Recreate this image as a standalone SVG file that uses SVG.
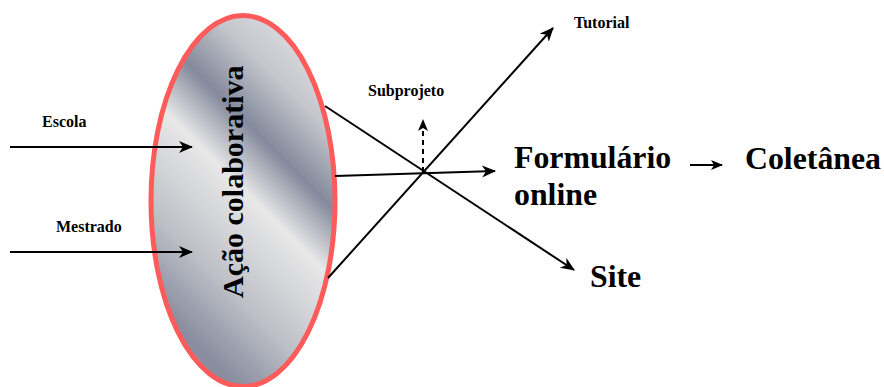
<svg xmlns="http://www.w3.org/2000/svg" width="884" height="387" viewBox="0 0 884 387">
<style>
.lbl{font-family:"Liberation Serif","Times New Roman",serif;font-weight:bold;fill:#000}
.s{font-size:16px}
.b{font-size:31.8px}
.ln{stroke:#000;stroke-width:2;fill:none}
</style>
<defs>
<linearGradient id="g" gradientUnits="userSpaceOnUse" x1="345" y1="98" x2="140" y2="303">
<stop offset="0" stop-color="#d6d7db"/>
<stop offset="0.12" stop-color="#c4c6cc"/>
<stop offset="0.30" stop-color="#848a9c"/>
<stop offset="0.47" stop-color="#e8e8e8"/>
<stop offset="0.62" stop-color="#d2d3d7"/>
<stop offset="0.75" stop-color="#bcbfc6"/>
<stop offset="0.97" stop-color="#878c9e"/>
<stop offset="1" stop-color="#8a8fa0"/>
</linearGradient>
<marker id="ah" markerUnits="userSpaceOnUse" markerWidth="16" markerHeight="14" refX="13" refY="6" orient="auto">
<path d="M0,0 L14,6 L0,12 L4,6 z" fill="#000"/>
</marker>
<marker id="ahs" markerUnits="userSpaceOnUse" markerWidth="14" markerHeight="12" refX="11" refY="5" orient="auto">
<path d="M0,0 L12,5 L0,10 L3,5 z" fill="#000"/>
</marker>
</defs>
<g id="acao">
<ellipse cx="243" cy="201" rx="92" ry="185.5" fill="url(#g)" stroke="#ff5b5b" stroke-width="5"/>
<text class="lbl" font-size="30" transform="translate(243,298) rotate(-90)">Ação colaborativa</text>
</g>
<g id="connectors">
<line class="ln" x1="10" y1="147" x2="192" y2="147" marker-end="url(#ah)"/>
<line class="ln" x1="10" y1="252" x2="192" y2="252" marker-end="url(#ah)"/>
<line class="ln" x1="325" y1="106" x2="574" y2="270" marker-end="url(#ah)"/>
<line class="ln" x1="335" y1="176" x2="495" y2="171" marker-end="url(#ah)"/>
<line class="ln" x1="328" y1="278" x2="553" y2="28" marker-end="url(#ah)"/>
<line class="ln" x1="423" y1="172" x2="423" y2="120" stroke-dasharray="5,4" marker-end="url(#ahs)"/>
<line class="ln" x1="690" y1="165" x2="722" y2="165" stroke-width="1.5" marker-end="url(#ahs)"/>
</g>
<g id="escola"><text class="lbl s" x="42" y="127">Escola</text></g>
<g id="mestrado"><text class="lbl s" x="56" y="232">Mestrado</text></g>
<g id="subprojeto"><text class="lbl s" x="368" y="96">Subprojeto</text></g>
<g id="tutorial"><text class="lbl s" x="574" y="28">Tutorial</text></g>
<g id="formulario"><text class="lbl b" x="514" y="168">Formulário</text><text class="lbl b" x="514" y="205">online</text></g>
<g id="site"><text class="lbl b" x="590" y="287">Site</text></g>
<g id="coletanea"><text class="lbl b" x="745" y="169">Coletânea</text></g>
</svg>
